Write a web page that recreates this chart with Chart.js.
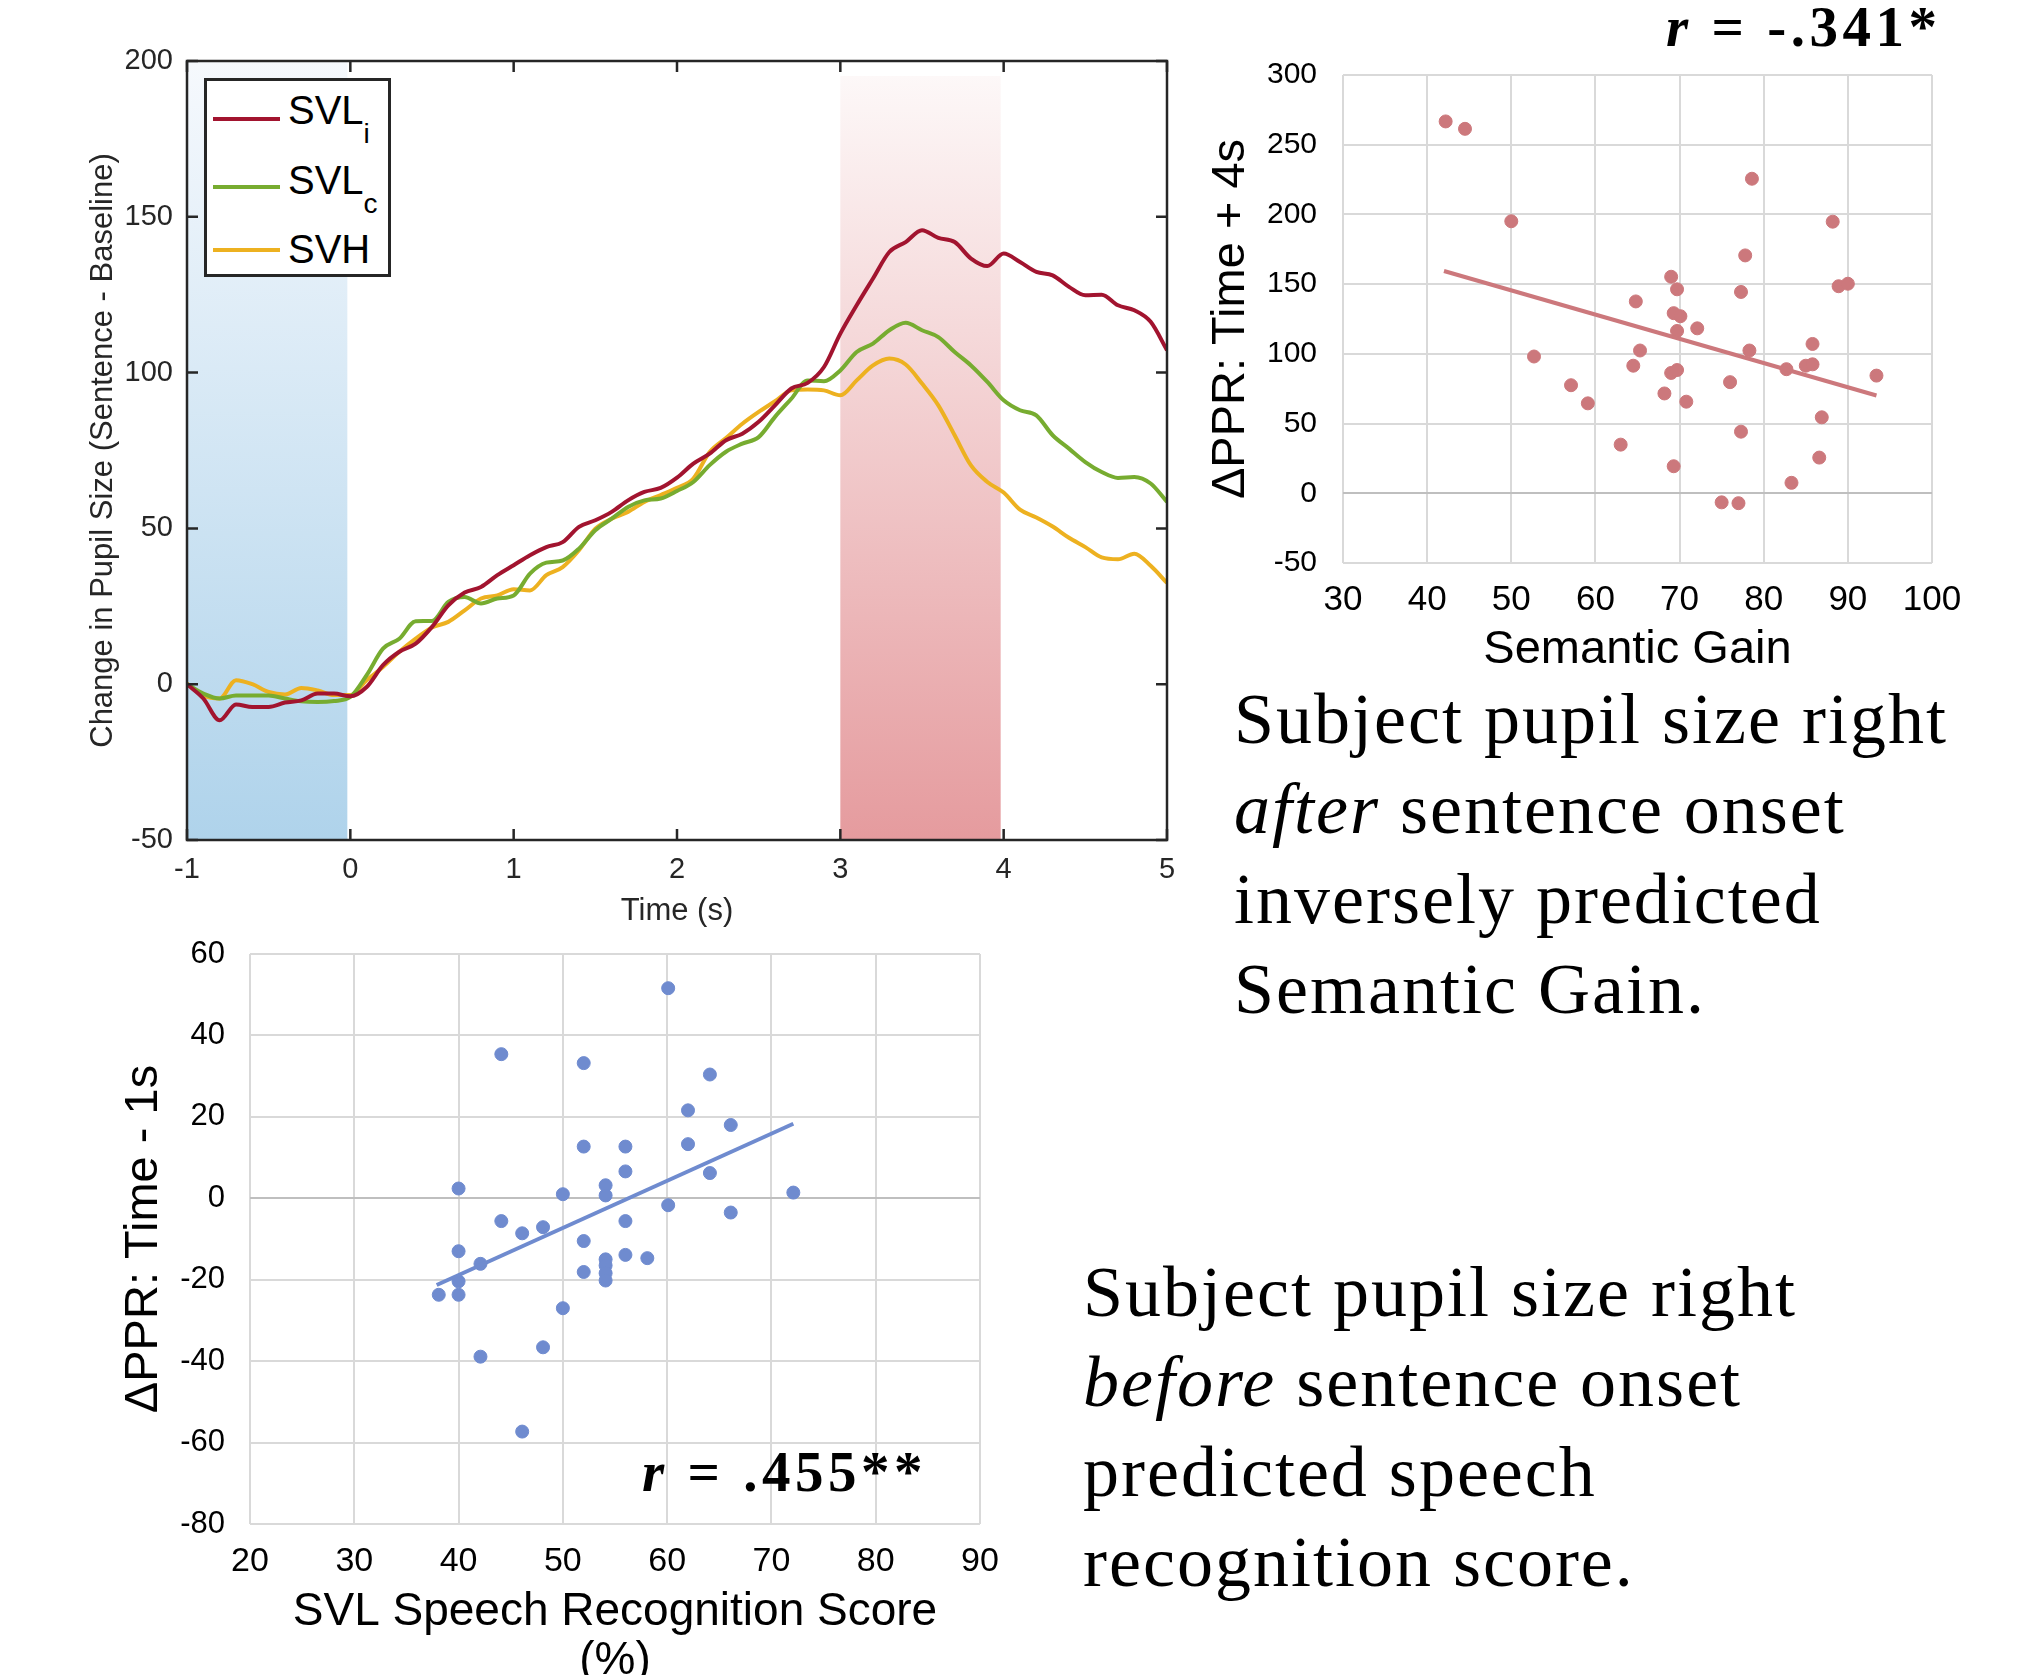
<!DOCTYPE html>
<html>
<head>
<meta charset="utf-8">
<script src="https://cdn.jsdelivr.net/npm/chart.js@4.4.1/dist/chart.umd.min.js"></script>
<style>
  html, body { margin: 0; padding: 0; background: #fff; width: 2017px; height: 1675px; overflow: hidden; position: relative; }
  canvas { position: absolute; }
  #pupilCanvas { left: 0; top: 0; }
  #gainCanvas { left: 1200px; top: 0; }
  #speechCanvas { left: 100px; top: 930px; }
  .legend { position: absolute; left: 204px; top: 78px; width: 181px; height: 193px; border: 3px solid #262626; background: #fff; font-family: "Liberation Sans", Arial, sans-serif; color: #000; }
  .legend .swatch { position: absolute; left: 6px; width: 67px; height: 4px; }
  .legend .label { position: absolute; left: 81px; font-size: 40px; line-height: 40px; white-space: nowrap; }
  .legend .sub { font-size: 28px; position: relative; top: 19px; }
  .rval { position: absolute; font-family: "Liberation Serif", serif; font-weight: bold; font-size: 57px; line-height: 57px; letter-spacing: 4.5px; white-space: nowrap; color: #000; z-index: 2; }
  .note { position: absolute; font-family: "Liberation Serif", serif; font-size: 72px; line-height: 90px; letter-spacing: 2px; white-space: nowrap; color: #000; }
</style>
</head>
<body>
<canvas id="pupilCanvas" width="1200" height="940"></canvas>
<canvas id="gainCanvas" width="817" height="680"></canvas>
<canvas id="speechCanvas" width="950" height="770"></canvas>

<div class="legend">
  <div class="swatch" style="top:36px;background:#a2142f"></div>
  <div class="label" style="top:9px">SVL<span class="sub">i</span></div>
  <div class="swatch" style="top:104px;background:#77ac30"></div>
  <div class="label" style="top:79px">SVL<span class="sub">c</span></div>
  <div class="swatch" style="top:167px;background:#edb120"></div>
  <div class="label" style="top:148px">SVH</div>
</div>

<div class="rval" style="left:1666px;top:-2px"><i>r</i> = -.341*</div>
<div class="rval" style="left:642px;top:1443px"><i>r</i> = .455**</div>

<div class="note" style="left:1234px;top:674px">Subject pupil size right<br><i>after</i> sentence onset<br>inversely predicted<br>Semantic Gain.</div>
<div class="note" style="left:1083px;top:1247px">Subject pupil size right<br><i>before</i> sentence onset<br>predicted speech<br>recognition score.</div>

<script>
// pupil response traces, sampled every 0.1 s
const timeSec = [
  -1.0, -0.9, -0.8, -0.7, -0.6, -0.5, -0.4, -0.3, -0.2, -0.1,
  0.0, 0.1, 0.2, 0.3, 0.4, 0.5, 0.6, 0.7, 0.8, 0.9,
  1.0, 1.1, 1.2, 1.3, 1.4, 1.5, 1.6, 1.7, 1.8, 1.9,
  2.0, 2.1, 2.2, 2.3, 2.4, 2.5, 2.6, 2.7, 2.8, 2.9,
  3.0, 3.1, 3.2, 3.3, 3.4, 3.5, 3.6, 3.7, 3.8, 3.9,
  4.0, 4.1, 4.2, 4.3, 4.4, 4.5, 4.6, 4.7, 4.8, 4.9, 5.0
];
const svlI = [
  0, -4.6, -11.6, -6.5, -7.3, -7.3, -5.9, -5.2, -3.0, -3.0,
  -3.9, -0.9, 6.1, 10.4, 13.0, 18.4, 25.3, 29.4, 31.2, 35.0,
  38.2, 41.4, 44.0, 45.6, 50.5, 52.6, 55.3, 59.0, 61.7, 63.0,
  66.3, 70.8, 74.0, 78.3, 80.4, 84.2, 89.5, 94.9, 96.7, 101.8,
  112.5, 121.6, 130.2, 138.7, 141.9, 145.7, 143.2, 141.9, 136.6, 134.2,
  138.2, 135.5, 132.3, 131.2, 127.5, 124.8, 125.0, 121.6, 120.0, 116.3, 107.2
];
const svlC = [
  0, -3.0, -4.6, -3.6, -3.6, -3.6, -4.6, -5.5, -5.7, -5.4,
  -4.1, 2.9, 11.4, 14.6, 20.2, 20.3, 26.4, 28.0, 25.9, 27.5,
  28.5, 35.5, 39.0, 39.7, 43.5, 49.4, 53.1, 56.9, 59.0, 59.6,
  62.0, 64.9, 70.3, 74.6, 77.2, 79.3, 85.8, 91.6, 97.5, 97.2,
  100.7, 106.6, 109.3, 113.6, 116.0, 113.6, 111.4, 106.6, 102.3, 97.0,
  91.1, 87.9, 86.3, 79.9, 75.6, 71.3, 68.1, 66.2, 66.5, 64.4, 58.5
];
const svh = [
  0.2, -3.6, -4.6, 1.3, 0, -2.5, -3.3, -1.2, -2.0, -3.5,
  -3.5, 1.3, 5.5, 10.4, 14.6, 18.2, 20.0, 23.7, 27.5, 28.5,
  30.5, 30.1, 35.0, 37.6, 43.0, 49.9, 53.1, 55.3, 58.5, 60.7,
  63.0, 66.0, 74.5, 79.0, 83.6, 87.4, 90.8, 94.3, 94.6, 94.3,
  92.7, 97.5, 102.3, 104.5, 102.6, 96.5, 89.5, 79.9, 70.2, 64.9,
  61.5, 56.0, 53.5, 50.6, 47.0, 44.0, 40.7, 40.1, 41.9, 38.0, 32.5
];
const baselineWindow = [-1, 0];
const peakWindow = [3, 4];

// semantic gain vs dPPR (time + 4 s)
const gainX = [
  42.2, 44.5, 50.0, 52.7, 57.1, 59.1, 63.0, 64.8, 65.3, 64.5,
  68.2, 69.0, 69.7, 69.3, 70.1, 69.7, 72.1, 69.0, 69.7, 70.8,
  69.3, 75.0, 77.0, 76.0, 77.3, 77.8, 78.6, 78.3, 77.3, 82.7,
  83.3, 85.0, 85.8, 85.8, 86.9, 86.6, 88.2, 88.9, 90.0, 93.4
];
const gainY = [
  266.7, 261.4, 195.1, 98.1, 77.5, 64.5, 34.9, 137.6, 102.4, 91.5,
  71.6, 155.3, 146.3, 129.2, 127.0, 116.4, 118.3, 86.3, 88.4, 65.7,
  19.4, -6.5, -7.1, 79.7, 144.4, 170.6, 225.6, 102.4, 44.2, 89.0,
  7.5, 91.5, 92.5, 107.1, 54.5, 25.6, 194.8, 148.5, 150.3, 84.4
];
const gainTrendX = [42.0, 93.4];
const gainTrendY = [159.4, 70.1];

// speech recognition score vs dPPR (time - 1 s)
const speechX = [
  60.1, 44.1, 52.0, 64.1, 62.0, 66.1, 52.0, 56.0, 62.0, 56.0,
  64.1, 40.0, 50.0, 54.1, 54.1, 72.1, 60.1, 66.1, 44.1, 56.0,
  46.1, 48.1, 40.0, 52.0, 42.1, 56.0, 58.1, 54.1, 54.1, 54.1,
  54.1, 52.0, 40.0, 38.1, 40.0, 50.0, 48.1, 42.1, 46.1
];
const speechY = [
  51.6, 35.4, 33.2, 30.4, 21.6, 18.0, 12.7, 12.7, 13.3, 6.6,
  6.2, 2.4, 1.0, 3.2, 0.7, 1.4, -1.7, -3.5, -5.6, -5.6,
  -8.6, -7.1, -13.0, -10.5, -16.1, -13.9, -14.7, -15.0, -16.5, -18.4,
  -20.2, -18.1, -20.4, -23.7, -23.7, -27.0, -36.6, -38.9, -57.3
];
const speechTrendX = [37.9, 72.1];
const speechTrendY = [-21.3, 18.3];

Chart.defaults.font.family = '"Liberation Sans", Arial, sans-serif';
Chart.defaults.animation = false;

const toPoints = (xs, ys) => xs.map((x, i) => ({ x: x, y: ys[i] }));

// fix axis box sizes so the plot areas land where the figure has them
const fixWidth = (w) => (scale) => { scale.width = w; scale.paddingTop = 0; scale.paddingBottom = 0; };
const fixHeight = (h) => (scale) => { scale.height = h; };

// gradient bands behind the traces
const shadingPlugin = {
  id: 'shading',
  beforeDatasetsDraw(chart) {
    const { ctx, chartArea, scales } = chart;
    const bands = [
      { win: baselineWindow, top: '#f6f9fd', bottom: '#afd3eb', inset: 0 },
      { win: peakWindow, top: '#fdf8f8', bottom: '#e59b9e', inset: 15 }
    ];
    ctx.save();
    bands.forEach((b) => {
      const x0 = scales.x.getPixelForValue(b.win[0]);
      const x1 = scales.x.getPixelForValue(b.win[1]) - 3;
      const y0 = chartArea.top + b.inset;
      const grad = ctx.createLinearGradient(0, y0, 0, chartArea.bottom);
      grad.addColorStop(0, b.top);
      grad.addColorStop(1, b.bottom);
      ctx.fillStyle = grad;
      ctx.fillRect(x0, y0, x1 - x0, chartArea.bottom - y0);
    });
    ctx.restore();
  }
};

// matlab style box with inward ticks
const boxPlugin = {
  id: 'box',
  afterDatasetsDraw(chart) {
    const { ctx, chartArea: a, scales } = chart;
    const len = 11;
    ctx.save();
    ctx.strokeStyle = '#262626';
    ctx.lineWidth = 2.5;
    ctx.beginPath();
    scales.x.ticks.forEach((t) => {
      const px = scales.x.getPixelForValue(t.value);
      ctx.moveTo(px, a.bottom); ctx.lineTo(px, a.bottom - len);
      ctx.moveTo(px, a.top); ctx.lineTo(px, a.top + len);
    });
    scales.y.ticks.forEach((t) => {
      const py = scales.y.getPixelForValue(t.value);
      ctx.moveTo(a.left, py); ctx.lineTo(a.left + len, py);
      ctx.moveTo(a.right, py); ctx.lineTo(a.right - len, py);
    });
    ctx.stroke();
    ctx.strokeRect(a.left, a.top, a.right - a.left, a.bottom - a.top);
    ctx.restore();
  }
};

const traceStyle = (color) => ({
  borderColor: color,
  borderWidth: 4,
  pointRadius: 0,
  fill: false,
  cubicInterpolationMode: 'monotone'
});

new Chart(document.getElementById('pupilCanvas'), {
  type: 'line',
  data: {
    datasets: [
      Object.assign({ label: 'SVLi', data: toPoints(timeSec, svlI) }, traceStyle('#a2142f')),
      Object.assign({ label: 'SVLc', data: toPoints(timeSec, svlC) }, traceStyle('#77ac30')),
      Object.assign({ label: 'SVH', data: toPoints(timeSec, svh) }, traceStyle('#edb120'))
    ]
  },
  options: {
    responsive: false,
    layout: { padding: { top: 61, right: 33, left: 0, bottom: 0 } },
    plugins: { legend: { display: false }, tooltip: { enabled: false } },
    scales: {
      x: {
        type: 'linear', min: -1, max: 5,
        ticks: { stepSize: 1, padding: 5, color: '#262626', font: { size: 29 } },
        grid: { display: false },
        border: { display: false },
        title: { display: true, text: 'Time (s)', color: '#262626', font: { size: 31 }, padding: { top: 0, bottom: 10 } },
        afterFit: fixHeight(100)
      },
      y: {
        min: -50, max: 200,
        ticks: { stepSize: 50, padding: 6, color: '#262626', font: { size: 29 } },
        grid: { display: false },
        border: { display: false },
        title: { display: true, text: 'Change in Pupil Size (Sentence - Baseline)', color: '#262626', font: { size: 31 }, padding: { top: 85, bottom: 0 } },
        afterFit: fixWidth(187)
      }
    }
  },
  plugins: [shadingPlugin, boxPlugin]
});

const excelGrid = {
  color: (c) => (c.tick && c.tick.value === 0 ? '#bfbfbf' : '#d9d9d9'),
  lineWidth: 2,
  drawTicks: false
};

new Chart(document.getElementById('gainCanvas'), {
  type: 'scatter',
  data: {
    datasets: [
      {
        type: 'line', data: toPoints(gainTrendX, gainTrendY),
        borderColor: '#cc787c', borderWidth: 4, pointRadius: 0, order: 0
      },
      {
        data: toPoints(gainX, gainY),
        backgroundColor: '#cc787c', borderColor: '#cc787c', pointRadius: 6.5, order: 1
      }
    ]
  },
  options: {
    responsive: false,
    layout: { padding: { top: 75, right: 85, left: 0, bottom: 0 } },
    plugins: { legend: { display: false }, tooltip: { enabled: false } },
    scales: {
      x: {
        type: 'linear', min: 30, max: 100,
        ticks: { stepSize: 10, padding: 16, color: '#000', font: { size: 35 } },
        grid: excelGrid,
        border: { display: false },
        title: { display: true, text: 'Semantic Gain', color: '#000', font: { size: 47 }, padding: { top: 0, bottom: 2 } },
        afterFit: fixHeight(117)
      },
      y: {
        min: -50, max: 300,
        ticks: { stepSize: 50, padding: 26, color: '#000', font: { size: 30 } },
        grid: excelGrid,
        border: { display: false },
        title: { display: true, text: 'ΔPPR: Time + 4s', color: '#000', font: { size: 47 }, padding: { top: 3, bottom: 0 } },
        afterFit: fixWidth(143)
      }
    }
  }
});

new Chart(document.getElementById('speechCanvas'), {
  type: 'scatter',
  data: {
    datasets: [
      {
        type: 'line', data: toPoints(speechTrendX, speechTrendY),
        borderColor: '#6f8bcf', borderWidth: 4, pointRadius: 0, order: 0
      },
      {
        data: toPoints(speechX, speechY),
        backgroundColor: '#6f8bcf', borderColor: '#6f8bcf', pointRadius: 6.5, order: 1
      }
    ]
  },
  options: {
    responsive: false,
    layout: { padding: { top: 24, right: 70, left: 0, bottom: 0 } },
    plugins: { legend: { display: false }, tooltip: { enabled: false } },
    scales: {
      x: {
        type: 'linear', min: 20, max: 90,
        ticks: { stepSize: 10, padding: 17, color: '#000', font: { size: 34 } },
        grid: excelGrid,
        border: { display: false },
        title: { display: true, text: ['SVL Speech Recognition Score', '(%)'], color: '#000', font: { size: 46, lineHeight: 1.05 }, padding: { top: 0, bottom: 15 } },
        afterFit: fixHeight(176)
      },
      y: {
        min: -80, max: 60,
        ticks: { stepSize: 20, padding: 25, color: '#000', font: { size: 31 } },
        grid: excelGrid,
        border: { display: false },
        title: { display: true, text: 'ΔPPR: Time - 1s', color: '#000', font: { size: 47 }, padding: { top: 16, bottom: 0 } },
        afterFit: fixWidth(150)
      }
    }
  }
});
</script>
</body>
</html>
